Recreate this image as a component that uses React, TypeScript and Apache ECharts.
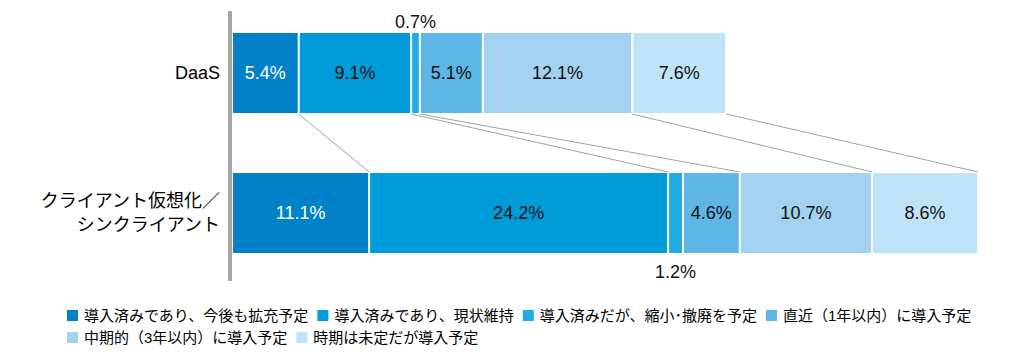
import React, { useEffect, useRef } from "react";
import * as echarts from "echarts";

const categories = ["DaaS", "クライアント仮想化／\nシンクライアント"];
const seriesNames = [
  "導入済みであり、今後も拡充予定",
  "導入済みであり、現状維持",
  "導入済みだが、縮小･撤廃を予定",
  "直近（1年以内）に導入予定",
  "中期的（3年以内）に導入予定",
  "時期は未定だが導入予定",
];
const daasValues = [5.4, 9.1, 0.7, 5.1, 12.1, 7.6];
const thinClientValues = [11.1, 24.2, 1.2, 4.6, 10.7, 8.6];
const colors = ["#0081C8", "#009BD9", "#22AAE2", "#5EB6E6", "#A2D2F0", "#BEE3F7"];
// connector lines: [segments summed on DaaS bar, segments summed on second bar]
const connectorPairs = [
  [1, 1],
  [2, 2],
  [3, 4],
  [5, 5],
  [6, 6],
];

const LATIN = "'Liberation Sans', Arial, 'Noto Sans CJK JP', sans-serif";
const BAR_W = 82;

const cum = (arr: number[], n: number) => arr.slice(0, n).reduce((s, v) => s + v, 0);

export default function App() {
  const ref = useRef<HTMLDivElement>(null);
  useEffect(() => {
    if (!ref.current) return;
    const chart = echarts.init(ref.current, undefined, { renderer: "svg" });
    const barSeries = seriesNames.map((name, i) => ({
      name,
      type: "bar",
      stack: "total",
      barWidth: BAR_W,
      itemStyle: { color: colors[i], borderColor: "#ffffff", borderWidth: 1 },
      label: {
        show: true,
        position: "inside",
        formatter: (p: any) => `${Number(p.value).toFixed(1)}%`,
        color: i === 0 ? "#ffffff" : "#111111",
        fontSize: 18,
        fontFamily: LATIN,
      },
      data: [daasValues[i], thinClientValues[i]].map((v, ci) =>
        i === 2
          ? {
              value: v,
              label: ci === 0 ? { position: "top", distance: 1 } : { position: "bottom", distance: 9 },
            }
          : v
      ),
      z: 3,
    }));
    const connectors = {
      type: "custom",
      coordinateSystem: "cartesian2d",
      silent: true,
      z: 1,
      data: connectorPairs,
      renderItem: (_params: any, api: any) => {
        const a = api.value(0);
        const b = api.value(1);
        const p1 = api.coord([cum(daasValues, a), 0]);
        const p2 = api.coord([cum(thinClientValues, b), 1]);
        return {
          type: "line",
          shape: { x1: p1[0], y1: p1[1] + BAR_W / 2, x2: p2[0], y2: p2[1] - BAR_W / 2 },
          style: { stroke: "#A0A0A0", lineWidth: 1 },
        };
      },
      encode: { x: 0, y: 1 },
    };
    const legendCommon = {
      orient: "horizontal",
      icon: "rect",
      padding: 0,
      itemWidth: 13,
      itemHeight: 13,
      itemGap: 7,
      textStyle: { fontSize: 15, fontFamily: LATIN, color: "#000000" },
    };
    chart.setOption({
      animation: false,
      grid: { left: 232, top: 3, width: 766, height: 280 },
      xAxis: { type: "value", min: 0, max: 62, show: false },
      yAxis: {
        type: "category",
        inverse: true,
        data: categories,
        axisLine: { show: false },
        axisTick: { show: false },
        axisLabel: {
          margin: 12,
          fontSize: 18,
          lineHeight: 24,
          color: "#000000",
          fontFamily: LATIN,
          align: "right",
        },
      },
      legend: [
        { ...legendCommon, left: 65, top: 308, data: seriesNames.slice(0, 4) },
        { ...legendCommon, left: 65, top: 330, data: seriesNames.slice(4) },
      ],
      graphic: [
        {
          type: "rect",
          shape: { x: 228, y: 11, width: 4, height: 270 },
          style: { fill: "#A6A6A6" },
          z: 10,
        },
      ],
      series: [...barSeries, connectors],
    });
    return () => chart.dispose();
  }, []);
  return (
    <div
      ref={ref}
      style={{ position: "fixed", left: 0, top: 0, width: 1030, height: 356, background: "#ffffff" }}
    />
  );
}
